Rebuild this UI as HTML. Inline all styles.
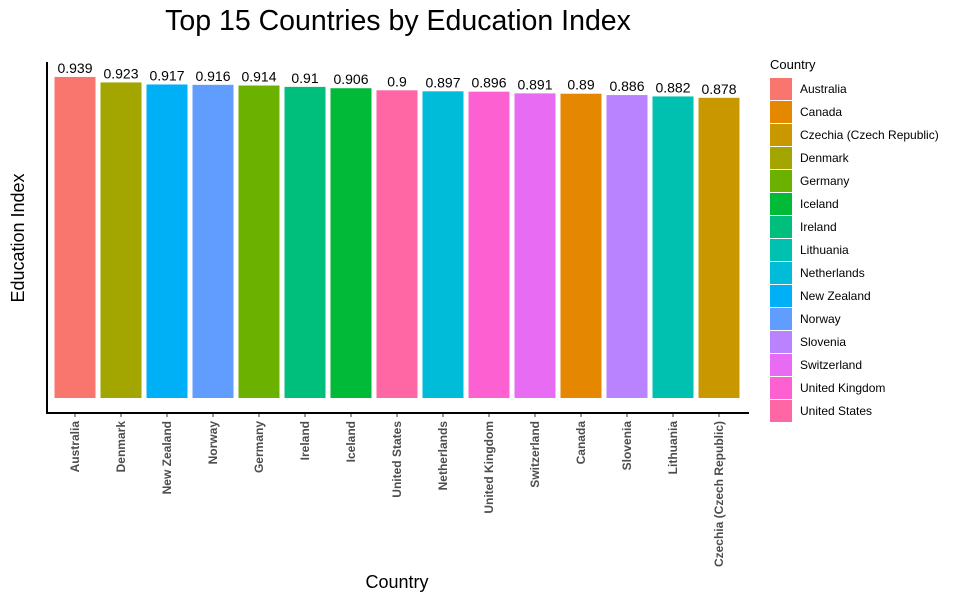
<!DOCTYPE html>
<html><head><meta charset="utf-8"><style>
body{margin:0;background:#fff;font-family:"Liberation Sans",sans-serif}
</style></head><body>
<svg id="c" width="956" height="599" xmlns="http://www.w3.org/2000/svg">
<text x="398" y="30" font-size="28.5" text-anchor="middle" fill="#000">Top 15 Countries by Education Index</text>
<text x="397" y="588" font-size="18" text-anchor="middle">Country</text>
<text transform="translate(24,238) rotate(-90)" font-size="18" text-anchor="middle">Education Index</text>
<g id="bars"></g>
<line x1="47" y1="62" x2="47" y2="414" stroke="#000" stroke-width="2"/>
<line x1="46" y1="413" x2="749" y2="413" stroke="#000" stroke-width="2"/>
<text x="770" y="69" font-size="13">Country</text>
<g id="legend"></g>
</svg>
<script>
const categories=["Australia","Denmark","New Zealand","Norway","Germany","Ireland","Iceland","United States","Netherlands","United Kingdom","Switzerland","Canada","Slovenia","Lithuania","Czechia (Czech Republic)"];
const values=[0.939,0.923,0.917,0.916,0.914,0.91,0.906,0.9,0.897,0.896,0.891,0.89,0.886,0.882,0.878];
const labels=["0.939","0.923","0.917","0.916","0.914","0.91","0.906","0.9","0.897","0.896","0.891","0.89","0.886","0.882","0.878"];
const legendNames=["Australia","Canada","Czechia (Czech Republic)","Denmark","Germany","Iceland","Ireland","Lithuania","Netherlands","New Zealand","Norway","Slovenia","Switzerland","United Kingdom","United States"];
const legendColors=["#F8766D","#E58700","#C99800","#A3A500","#6BB100","#00BA38","#00BF7D","#00C0AF","#00BCD8","#00B0F6","#619CFF","#B983FF","#E76BF3","#FD61D1","#FF67A4"];
const NS="http://www.w3.org/2000/svg";
const y0=398,k=341.9;
const yS=v=>y0-v*k;
const xS=i=>75+i*46;
const col=n=>legendColors[legendNames.indexOf(n)];
const bars=document.getElementById('bars');
categories.forEach((c,i)=>{
 const r=document.createElementNS(NS,'rect');
 r.setAttribute('x',xS(i)-20.5);r.setAttribute('width',41);
 r.setAttribute('y',yS(values[i]));r.setAttribute('height',values[i]*k);
 r.setAttribute('fill',col(c));
 
 
 bars.appendChild(r);
 const t=document.createElementNS(NS,'text');
 t.setAttribute('x',xS(i));t.setAttribute('y',yS(values[i])-4);
 t.setAttribute('font-size','14');t.setAttribute('text-anchor','middle');
 t.textContent=labels[i];
 
 
 bars.appendChild(t);
 const tk=document.createElementNS(NS,'line');
 tk.setAttribute('x1',xS(i));tk.setAttribute('x2',xS(i));tk.setAttribute('y1',413);tk.setAttribute('y2',417);
 tk.setAttribute('stroke','#333');
 
 
 bars.appendChild(tk);
 const lb=document.createElementNS(NS,'text');
 lb.setAttribute('transform','translate('+(xS(i)+4)+',421) rotate(-90)');
 lb.setAttribute('font-size','12');lb.setAttribute('font-weight','bold');lb.setAttribute('fill','#4d4d4d');
 lb.setAttribute('text-anchor','end');
 lb.textContent=c;
 
 
 bars.appendChild(lb);
});
const lg=document.getElementById('legend');
legendNames.forEach((n,i)=>{
 const r=document.createElementNS(NS,'rect');
 r.setAttribute('x',770);r.setAttribute('y',78+i*23);r.setAttribute('width',22);r.setAttribute('height',22);
 r.setAttribute('fill',legendColors[i]);
 
 
 lg.appendChild(r);
 const t=document.createElementNS(NS,'text');
 t.setAttribute('x',800);t.setAttribute('y',93+i*23);t.setAttribute('font-size','12');
 t.textContent=n;
 
 
 lg.appendChild(t);
});
</script>
</body></html>
